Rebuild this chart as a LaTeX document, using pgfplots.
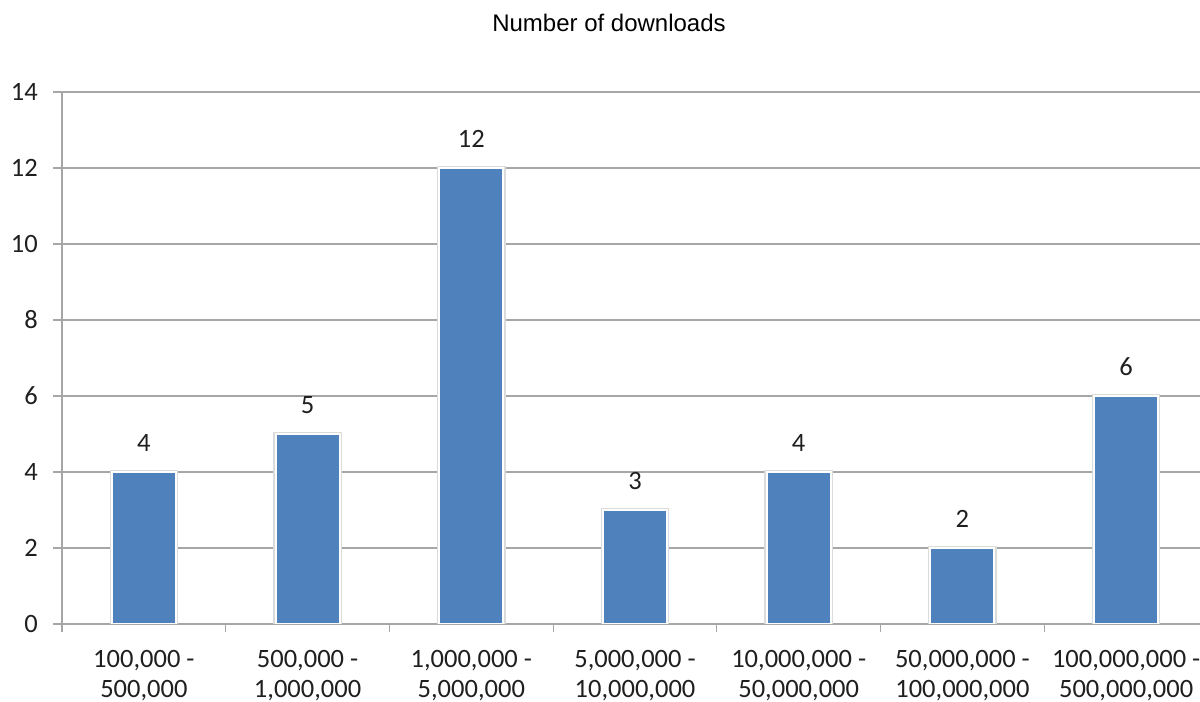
\documentclass[border=0pt]{standalone}
\usepackage{pgfplots}
\pgfplotsset{compat=1.18}
\usepackage{fontspec}
\setmainfont{Carlito}
\newfontfamily\arialfont{Liberation Sans}
\definecolor{barblue}{HTML}{4F81BD}
\definecolor{gridgray}{HTML}{A6A6A6}
\definecolor{txt}{HTML}{1F1F1F}

\begin{document}
\begin{tikzpicture}[x=1bp,y=1bp]
\useasboundingbox (0,0) rectangle (1200,702);
\clip (0,0) rectangle (1200,702);
\node[font=\arialfont\fontsize{24bp}{28bp}\selectfont, anchor=base, text=black] at (609,670) {Number of downloads};
\begin{axis}[
  at={(62bp,78bp)}, anchor=south west,
  scale only axis,
  width=1146bp, height=532bp,
  font=\fontsize{26.5bp}{30bp}\selectfont,
  /pgf/number format/assume math mode=true,
  xmin=-0.5, xmax=6.5,
  ymin=0, ymax=14,
  ytick={0,2,...,14},
  xtick={0,...,6},
  xticklabels={{100,000 -\\500,000},{500,000 -\\1,000,000},{1,000,000 -\\5,000,000},{5,000,000 -\\10,000,000},{10,000,000 -\\50,000,000},{50,000,000 -\\100,000,000},{100,000,000 -\\500,000,000}},
  minor xtick={-0.5,0.5,...,6.5},
  axis x line*=bottom, axis y line*=left,
  axis line style={gridgray, line width=1.2bp, -},
  ymajorgrids=true,
  grid style={gridgray, line width=1.2bp},
  tick pos=left, tick align=outside,
  major tick style={gridgray, line width=1.2bp},
  minor tick style={gridgray, line width=1.2bp},
  major x tick style={draw=none},
  major tick length=9bp, minor tick length=8bp,
  ticklabel style={text=txt},
  xticklabel style={align=center, anchor=north, inner sep=0pt, yshift=-17bp},
  yticklabel style={anchor=east, inner sep=0pt, xshift=-15bp},
  ybar, bar width=64bp,
  nodes near coords,
  nodes near coords style={text=txt, anchor=south, inner sep=0pt, yshift=19bp},
]
\addplot[fill=barblue, draw=white, line width=2bp,
  preaction={draw=black!14, line width=4.5bp}]
  coordinates {(0,4)(1,5)(2,12)(3,3)(4,4)(5,2)(6,6)};
\end{axis}
\end{tikzpicture}
\end{document}
